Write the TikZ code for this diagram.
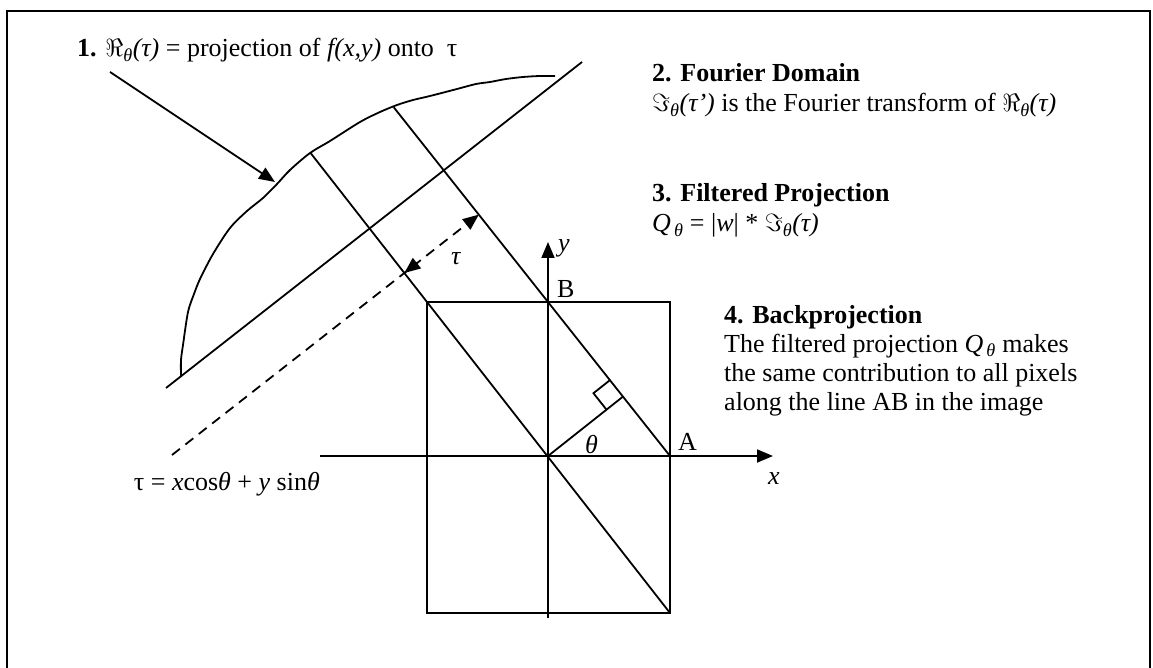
\documentclass[tikz,border=0pt]{standalone}
\usepackage{fontspec}
\setmainfont{Liberation Serif}
\usetikzlibrary{arrows.meta,calc}
\newcommand{\myRe}{\ensuremath{\Re}\textsubscript{\textit{θ}}\textit{(τ)}}
\newcommand{\myImp}{\ensuremath{\Im}\textsubscript{\textit{θ}}\textit{(τ’)}}
\newcommand{\myIm}{\ensuremath{\Im}\textsubscript{\textit{θ}}\textit{(τ)}}
\newcommand{\myQ}{\textit{Q}\textsubscript{\,\textit{θ}}}
\begin{document}
\begin{tikzpicture}[x=1pt,y=-1pt,
  ln/.style={line width=1.8pt},
  txt/.style={anchor=base west, inner sep=0pt, font=\fontsize{26}{30}\selectfont},
  tip/.style={-{Triangle[length=16pt,width=13pt]}},
  dsh/.style={dash pattern=on 10pt off 7pt}
]
\useasboundingbox (0,0) rectangle (1153,668);
% frame
\draw[line width=1.6pt] (7,668) -- (7,11) -- (1150,11) -- (1150,668);
% geometry
\coordinate (O) at (548,456);
\coordinate (TL) at (427,302);
\coordinate (BR) at (670,613);
\coordinate (A) at (670,456);
\coordinate (B) at (548,302);
\coordinate (xs) at (320,456);
\coordinate (xe) at (773,456);
\coordinate (ys) at (548,618);
\coordinate (ye) at (548,242);
\draw[ln] (TL) rectangle (BR);
\draw[ln,tip] (xs) -- (xe);
\draw[ln,tip] (ys) -- (ye);
% rays
\coordinate (C2) at ($(BR)!1.48!(TL)$);
\coordinate (C1) at ($(A)!2.265!(B)$);
\draw[ln] (BR) -- (C2);
\draw[ln] (A) -- (C1);
% theta line and right angle
\coordinate (F) at ($(A)!(O)!(B)$);
\draw[ln] (O) -- (F);
\coordinate (m1) at ($(F)!21pt!(O)$);
\coordinate (m2) at ($(F)!21pt!(B)$);
\draw[ln] (m1) -- ($(m1)+(m2)-(F)$) -- (m2);
% projection axis
\coordinate (P1) at (166,388);
\coordinate (P2) at (582,62);
\draw[ln] (P1) -- (P2);
% projection profile
\draw[ln] plot[smooth, tension=0.5] coordinates {(181,376) (181,360) (183,345) (188,312) (194,294) (200,279) (213,254) (230,228) (247,211) (263,198) (277,184) (290,170) (310,153) (330,141) (360,122) (380,112) (397,105) (413,100) (430,96) (457,89) (476,84) (490,82) (506,79) (523,77) (540,76) (555,76)};
% dashed tau line
\coordinate (D0) at (172,455);
\coordinate (D1) at ($(D0)+(416,-326)$);
\coordinate (T1) at (intersection cs: first line={(D0)--(D1)}, second line={(A)--(B)});
\coordinate (T2) at (intersection cs: first line={(D0)--(D1)}, second line={(TL)--(BR)});
\draw[ln,dsh,tip] (D0) -- (T1);
\draw[ln,dsh,tip] ($(T2)!17pt!(T1)$) -- (T2);
% arrow 1
\coordinate (S1) at (110,72);
\coordinate (E1) at (275,182);
\draw[ln,tip] (S1) -- (E1);
% labels
\node[txt] (ltau) at (451,265) {\textit{τ}};
\node[txt] (ltheta) at (585,453) {\textit{θ}};
\node[txt] (lA) at (678,450) {A};
\node[txt] (lB) at (557,298) {B};
\node[txt] (lx) at (768,484) {\textit{x}};
\node[txt] (ly) at (558,252) {\textit{y}};
\node[txt, anchor=base east] (form) at (320,490) {τ = \textit{x}cos\textit{θ} + \textit{y} sin\textit{θ}};
% texts
\node[txt] (t1) at (77,57) {\textbf{1.} \myRe{} = projection of \textit{f(x,y)} onto~ τ};
\node[txt] (h2) at (652,82) {\textbf{2. Fourier Domain}};
\node[txt] (b2) at (652,112) {\myImp{} is the Fourier transform of \myRe};
\node[txt] (h3) at (652,202) {\textbf{3. Filtered Projection}};
\node[txt] (b3) at (652,232) {\myQ{} = |\textit{w}| * \myIm};
\node[txt] (h4) at (724,323) {\textbf{4. Backprojection}};
\node[txt] (l41) at (724,352) {The filtered projection \myQ{} makes};
\node[txt] (l42) at (724,381) {the same contribution to all pixels};
\node[txt] (l43) at (724,410) {along the line AB in the image};
\end{tikzpicture}
\end{document}
